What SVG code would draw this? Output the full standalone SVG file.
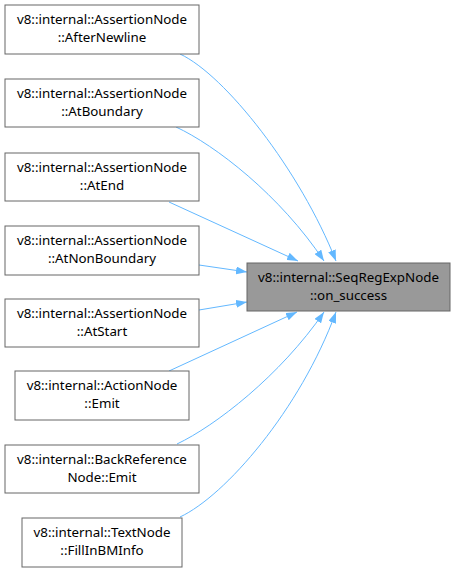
<svg xmlns="http://www.w3.org/2000/svg" width="455" height="573" viewBox="0 0 455 573">
<style>
.n rect{fill:#ffffff;stroke:#666666;stroke-width:1}
.t rect{fill:#999999;stroke:#666666;stroke-width:1}
text{font-family:"Noto Sans","Open Sans","DejaVu Sans",sans-serif;font-size:13.33px;fill:#000000;text-anchor:middle}
.e path{fill:none;stroke:#63b8ff;stroke-width:1}
</style>
<defs>
<marker id="ah" viewBox="0 0 11 8" refX="11" refY="4" markerWidth="11" markerHeight="8" markerUnits="userSpaceOnUse" orient="auto">
<path d="M0,0 L11,4 L0,8 z" fill="#63b8ff"/>
</marker>
</defs>
<g id="edges" class="e">
<path d="M180,54 C225,75 300,170 336,261" marker-end="url(#ah)"/>
<path d="M176,127 C215,145 280,195 324,261" marker-end="url(#ah)"/>
<path d="M169,202 L298,261" marker-end="url(#ah)"/>
<path d="M199,265 L247,272" marker-end="url(#ah)"/>
<path d="M199,310 L247,302" marker-end="url(#ah)"/>
<path d="M169,371 L297,312" marker-end="url(#ah)"/>
<path d="M177,444 C215,426 280,376 324,312" marker-end="url(#ah)"/>
<path d="M180,517 C225,496 300,410 336,312" marker-end="url(#ah)"/>
</g>
<g id="target" class="t">
<rect x="247" y="263" width="203" height="48"/>
<text x="348.5" y="281.5">v8::internal::SeqRegExpNode</text>
<text x="348.5" y="299.5">::on_success</text>
</g>
<g id="n1" class="n">
<rect x="5" y="5" width="194" height="49"/>
<text x="102" y="23.5">v8::internal::AssertionNode</text>
<text x="102" y="41.5">::AfterNewline</text>
</g>
<g id="n2" class="n">
<rect x="5" y="79" width="194" height="48"/>
<text x="102" y="97.5">v8::internal::AssertionNode</text>
<text x="102" y="115.5">::AtBoundary</text>
</g>
<g id="n3" class="n">
<rect x="5" y="153" width="194" height="48"/>
<text x="102" y="171.5">v8::internal::AssertionNode</text>
<text x="102" y="189.5">::AtEnd</text>
</g>
<g id="n4" class="n">
<rect x="5" y="226" width="194" height="49"/>
<text x="102" y="244.5">v8::internal::AssertionNode</text>
<text x="102" y="262.5">::AtNonBoundary</text>
</g>
<g id="n5" class="n">
<rect x="5" y="299" width="194" height="48"/>
<text x="102" y="317.5">v8::internal::AssertionNode</text>
<text x="102" y="335.5">::AtStart</text>
</g>
<g id="n6" class="n">
<rect x="15" y="371" width="174" height="49"/>
<text x="102" y="389.5">v8::internal::ActionNode</text>
<text x="102" y="407.5">::Emit</text>
</g>
<g id="n7" class="n">
<rect x="5" y="445" width="194" height="48"/>
<text x="102" y="463.5">v8::internal::BackReference</text>
<text x="102" y="481.5">Node::Emit</text>
</g>
<g id="n8" class="n">
<rect x="22" y="518" width="160" height="49"/>
<text x="102" y="536.5">v8::internal::TextNode</text>
<text x="102" y="554.5">::FillInBMInfo</text>
</g>
</svg>
